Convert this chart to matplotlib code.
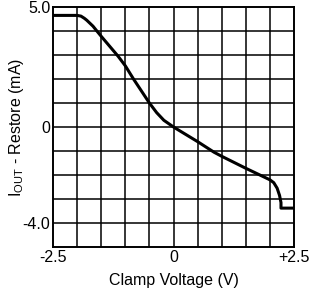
import matplotlib
matplotlib.use("Agg")
import matplotlib.pyplot as plt
import numpy as np

plt.rcParams['font.family'] = ['Liberation Sans', 'DejaVu Sans']
plt.rcParams['mathtext.fontset'] = 'custom'
plt.rcParams['mathtext.rm'] = 'Liberation Sans'

# data
clamp_v = [-2.5, -2.0, -1.92, -1.85, -1.8, -1.67, -1.59, -1.5, -1.15, -1.0,
           -0.83, -0.5, -0.35, -0.2, 0.0, 0.5, 0.84, 1.0, 1.5, 2.0,
           2.08, 2.15, 2.2, 2.23, 2.23, 2.5]
iout = [4.65, 4.65, 4.62, 4.53, 4.45, 4.2, 4.0, 3.78, 2.95, 2.55,
        2.0, 1.0, 0.6, 0.28, 0.0, -0.61, -1.05, -1.22, -1.72, -2.2,
        -2.32, -2.55, -2.85, -3.15, -3.38, -3.38]

xticks = [-2.5, 0, 2.5]
xticklabels = ['-2.5', '0', '+2.5']
yticks = [5.0, 0, -4.0]
yticklabels = ['5.0', '0', '-4.0']

fig = plt.figure(figsize=(3.15, 2.96), dpi=100)
ax = fig.add_axes([53/315, 1-247/296, (294-53)/315, (247-7)/296])

ax.set_xlim(-2.5, 2.5)
ax.set_ylim(-5, 5)
for gx in np.arange(-2.0, 2.5, 0.5):
    ax.axvline(gx, color='black', lw=1.1, zorder=1)
for gy in np.arange(-4, 5, 1):
    ax.axhline(gy, color='black', lw=1.1, zorder=1)

ax.plot(clamp_v, iout, color='black', lw=2.2, zorder=3, solid_joinstyle='round')

for s in ax.spines.values():
    s.set_linewidth(1.4)
    s.set_color('black')

ax.set_xticks(xticks)
ax.set_xticklabels(xticklabels)
ax.set_yticks(yticks)
ax.set_yticklabels(yticklabels)
ax.tick_params(length=0, labelsize=11.5, pad=2, colors='black')

ax.set_xlabel('Clamp Voltage (V)', fontsize=11.5)
ax.set_ylabel(r'I$_{\mathrm{OUT}}$ - Restore (mA)', fontsize=11.5)
ax.xaxis.set_label_coords(0.5, (247-280)/240)
ax.xaxis.label.set_va('center')
ax.yaxis.set_label_coords((16-53)/241, 0.5)
ax.yaxis.label.set_va('center')

fig.savefig('out.png', dpi=100)
